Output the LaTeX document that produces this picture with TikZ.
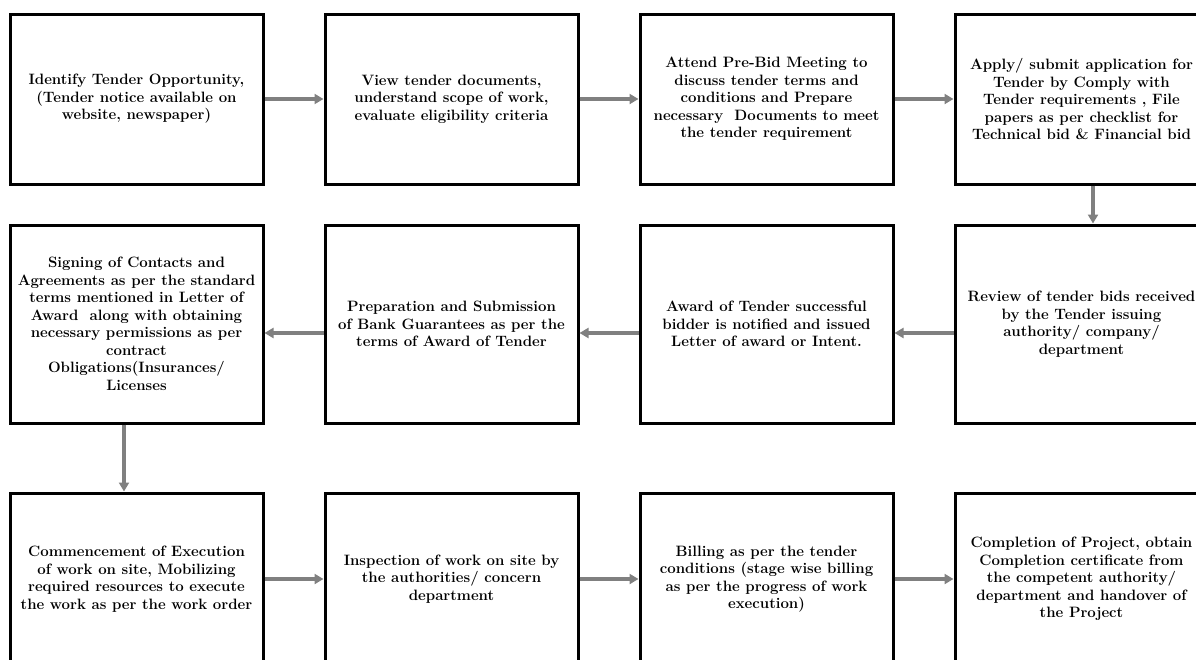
\documentclass[tikz,border=0pt]{standalone}
\usepackage{tikz}
\usetikzlibrary{arrows.meta}

\begin{document}
\begin{tikzpicture}[x=1pt,y=-1pt,
  stage/.style={draw=black, line width=3pt, minimum width=253pt, align=center, inner sep=3pt, font=\bfseries\fontsize{15}{17.5}\selectfont},
  flow/.style={draw=gray, line width=3.5pt, -{Triangle[length=9pt,width=10pt]}}]
\useasboundingbox (0,0) rectangle (1196,659);

% first row
\node[stage, minimum height=170pt] (s1) at (136.5,99) {Identify Tender Opportunity,\\(Tender notice available on\\website, newspaper)};
\node[stage, minimum height=170pt] (s2) at (451.5,99) {View tender documents,\\understand scope of work,\\evaluate eligibility criteria};
\node[stage, minimum height=170pt] (s3) at (766.5,99) {Attend Pre-Bid Meeting to\\discuss tender terms and\\conditions and Prepare\\necessary\ \ Documents to meet\\the tender requirement};
\node[stage, minimum height=170pt] (s4) at (1081.5,99) {Apply/ submit application for\\Tender by Comply with\\Tender requirements , File\\papers as per checklist for\\Technical bid \& Financial bid};

% second row
\node[stage, minimum height=198pt] (s5) at (1081.5,324) {Review of tender bids received\\by the Tender issuing\\authority/ company/\\department};
\node[stage, minimum height=198pt] (s6) at (766.5,324) {Award of Tender successful\\bidder is notified and issued\\Letter of award or Intent.};
\node[stage, minimum height=198pt] (s7) at (451.5,324) {Preparation and Submission\\of Bank Guarantees as per the\\terms of Award of Tender};
\node[stage, minimum height=198pt] (s8) at (136.5,324) {Signing of Contacts and\\Agreements as per the standard\\terms mentioned in Letter of\\Award\ \ along with obtaining\\necessary permissions as per\\contract\\Obligations(Insurances/\\Licenses};

% third row
\node[stage, minimum height=172pt] (s9) at (136.5,579) {Commencement of Execution\\of work on site, Mobilizing\\required resources to execute\\the work as per the work order};
\node[stage, minimum height=172pt] (s10) at (451.5,579) {Inspection of work on site by\\the authorities/ concern\\department};
\node[stage, minimum height=172pt] (s11) at (766.5,579) {Billing as per the tender\\conditions (stage wise billing\\as per the progress of work\\execution)};
\node[stage, minimum height=172pt] (s12) at (1081.5,579) {Completion of Project, obtain\\Completion certificate from\\the competent authority/\\department and handover of\\the Project};

\draw[flow] (s1) -- (s2);
\draw[flow] (s2) -- (s3);
\draw[flow] (s3) -- (s4);
\draw[flow] ([xshift=11.5pt]s4.south) -- ([xshift=11.5pt]s5.north);
\draw[flow] ([yshift=-9pt]s5.west) -- ([yshift=-9pt]s6.east);
\draw[flow] ([yshift=-9pt]s6.west) -- ([yshift=-9pt]s7.east);
\draw[flow] ([yshift=-9pt]s7.west) -- ([yshift=-9pt]s8.east);
\draw[flow] ([xshift=-12.5pt]s8.south) -- ([xshift=-12.5pt]s9.north);
\draw[flow] (s9) -- (s10);
\draw[flow] (s10) -- (s11);
\draw[flow] (s11) -- (s12);
\end{tikzpicture}
\end{document}
